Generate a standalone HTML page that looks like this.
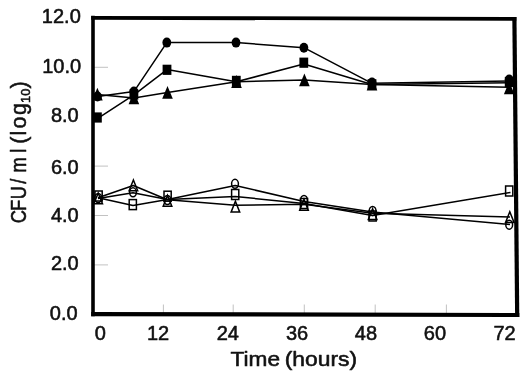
<!DOCTYPE html>
<html><head><meta charset="utf-8"><title>CFU/ml vs Time</title>
<style>
html,body{margin:0;padding:0;background:#fff;}
body{width:529px;height:374px;overflow:hidden;}
svg{display:block;}
text{font-family:"Liberation Sans",sans-serif;fill:#111;stroke:#111;stroke-width:0.55px;stroke-linejoin:round;}
</style></head><body>
<svg width="529" height="374" viewBox="0 0 529 374">
<rect width="529" height="374" fill="#fff"/>

<g stroke="#a8a8a8" stroke-width="0.7">
<line x1="94" y1="264.9" x2="108" y2="264.9"/>
<line x1="94" y1="215.5" x2="108" y2="215.5"/>
<line x1="94" y1="166.1" x2="108" y2="166.1"/>
<line x1="94" y1="67.3" x2="108" y2="67.3"/>
<line x1="163.4" y1="304.5" x2="163.4" y2="313"/>
<line x1="233.2" y1="304.5" x2="233.2" y2="313"/>
<line x1="304.3" y1="304.5" x2="304.3" y2="313"/>
<line x1="375.2" y1="304.5" x2="375.2" y2="313"/>
<line x1="446.4" y1="304.5" x2="446.4" y2="313"/>
</g>
<g stroke="#000" stroke-linecap="butt">
<line x1="93" y1="15.8" x2="93" y2="316.3" stroke-width="3.6"/>
<line x1="91.2" y1="17.8" x2="516.4" y2="18.9" stroke-width="3.8"/>
<line x1="514.4" y1="17" x2="517.2" y2="317" stroke-width="4.2"/>
<line x1="91.2" y1="314.1" x2="519.3" y2="315" stroke-width="4.2"/>
</g>
<g fill="none" stroke="#000" stroke-width="1.5" stroke-linejoin="round">
<polyline points="97.5,96.5 133.9,91.6 166.8,42.6 236.0,42.6 303.9,47.7 372.0,83.3 509.2,81.0"/>
<polyline points="97.4,118.7 133.9,94.8 167.0,69.6 236.3,81.8 303.8,64.0 372.0,84.5 509.2,82.8"/>
<polyline points="97.4,94.4 133.9,98.0 167.5,92.5 236.5,81.7 304.4,80.0 372.0,84.6 509.2,87.2"/>
<polyline points="98.0,198.4 133.0,192.8 167.5,199.6 235.2,185.5 304.0,201.5 372.6,212.0 510.0,224.5"/>
<polyline points="98.0,197.7 133.0,205.6 167.5,199.4 235.2,196.5 304.0,203.5 372.6,215.5 510.5,192.4"/>
<polyline points="98.0,197.8 133.3,185.5 167.5,199.8 235.4,205.3 304.0,204.2 372.6,213.2 510.0,217.0"/>
</g>
<g fill="#000">
<ellipse cx="97.5" cy="96.5" rx="4.4" ry="5"/>
<ellipse cx="133.9" cy="91.6" rx="4.4" ry="5"/>
<ellipse cx="166.8" cy="42.6" rx="4.4" ry="5"/>
<ellipse cx="236" cy="42.6" rx="4.4" ry="5"/>
<ellipse cx="303.9" cy="47.7" rx="4.4" ry="5"/>
<ellipse cx="372" cy="82.6" rx="4.4" ry="5"/>
<ellipse cx="509.2" cy="79.5" rx="4.4" ry="5"/>
<rect x="93.0" y="112.4" width="8.8" height="10.2"/>
<rect x="129.5" y="89.4" width="8.8" height="10.2"/>
<rect x="162.6" y="64.7" width="8.8" height="10.2"/>
<rect x="231.9" y="75.8" width="8.8" height="10.2"/>
<rect x="299.4" y="57.6" width="8.8" height="10.2"/>
<rect x="367.6" y="79.2" width="8.8" height="10.2"/>
<rect x="504.8" y="76.9" width="8.8" height="10.2"/>
<polygon points="97.4,87.8 102.7,100.6 92.1,100.6"/>
<polygon points="133.9,91.4 139.2,104.2 128.6,104.2"/>
<polygon points="167.5,85.9 172.8,98.7 162.2,98.7"/>
<polygon points="236.5,75.1 241.8,87.9 231.2,87.9"/>
<polygon points="304.4,73.4 309.7,86.2 299.1,86.2"/>
<polygon points="372.0,77.6 377.3,90.4 366.7,90.4"/>
<polygon points="509.2,81.4 514.5,94.2 503.9,94.2"/>
</g>
<g fill="none" stroke="#000" stroke-width="1.5">
<ellipse cx="98.2" cy="198" rx="3.4" ry="4.5"/>
<ellipse cx="133" cy="192.3" rx="3.4" ry="4.5"/>
<ellipse cx="167.4" cy="200" rx="3.4" ry="4.5"/>
<ellipse cx="235" cy="183.8" rx="3.4" ry="4.5"/>
<ellipse cx="304" cy="200" rx="3.4" ry="4.5"/>
<ellipse cx="372.6" cy="211" rx="3.4" ry="4.5"/>
<ellipse cx="509.2" cy="224.7" rx="3.4" ry="4.5"/>
<rect x="95.0" y="191.0" width="7.2" height="10"/>
<rect x="129.2" y="199.6" width="7.2" height="10"/>
<rect x="164.0" y="191.2" width="7.2" height="10"/>
<rect x="231.6" y="189.5" width="7.2" height="10"/>
<rect x="300.4" y="198.5" width="7.2" height="10"/>
<rect x="369.0" y="211.0" width="7.2" height="10"/>
<rect x="505.6" y="186.0" width="7.2" height="10"/>
<polygon points="98.2,193.0 102.5,203.8 93.9,203.8"/>
<polygon points="133.4,180.0 137.7,190.8 129.1,190.8"/>
<polygon points="167.5,195.4 171.8,206.2 163.2,206.2"/>
<polygon points="235.4,201.3 239.7,212.1 231.1,212.1"/>
<polygon points="304.0,199.4 308.3,210.2 299.7,210.2"/>
<polygon points="372.6,208.8 376.9,219.6 368.3,219.6"/>
<polygon points="509.8,211.8 514.1,222.6 505.5,222.6"/>
</g>
<g font-size="20" text-anchor="end">
<text x="77.6" y="320.1">0.0</text>
<text x="78.7" y="270.1">2.0</text>
<text x="78.7" y="221.6">4.0</text>
<text x="78.7" y="173.5">6.0</text>
<text x="78.7" y="122.2">8.0</text>
<text x="81.2" y="72.9">10.0</text>
<text x="80.8" y="23.0">12.0</text>
</g>
<g font-size="20" text-anchor="middle">
<text x="100.4" y="339.9">0</text>
<text x="158.0" y="339.9">12</text>
<text x="227.8" y="339.9">24</text>
<text x="297.0" y="339.9">36</text>
<text x="365.9" y="339.9">48</text>
<text x="434.9" y="339.9">60</text>
<text x="504.6" y="339.9">72</text>
</g>
<text x="230.6" y="366.3" font-size="20" textLength="49.5" lengthAdjust="spacingAndGlyphs">Time</text>
<text x="284.7" y="366.3" font-size="20" textLength="72.4" lengthAdjust="spacingAndGlyphs">(hours)</text>
<text transform="translate(26.1,0) rotate(-90) scale(0.85,1)" font-size="21.5" text-anchor="middle" x="-254.9 -241.8 -226.7 -213.2 -194.1 -177.2">CFU/ml</text>
<text transform="translate(26.1,0) rotate(-90)" font-size="21.5" text-anchor="middle" x="-140.2 -133.2 -122.5 -109.0">(log<tspan font-size="12.8" x="-95.8" dy="3.5">10</tspan><tspan x="-84.8" dy="-3.5">)</tspan></text>
</svg></body></html>
